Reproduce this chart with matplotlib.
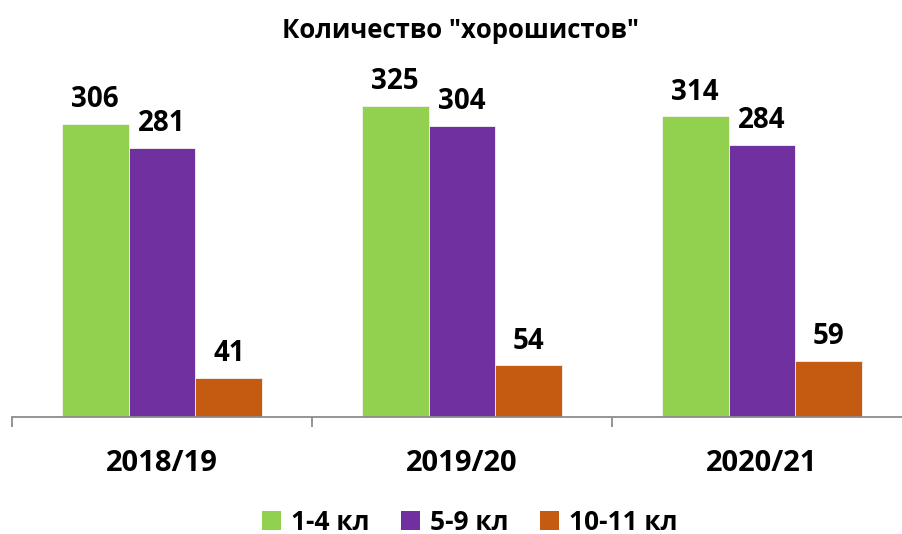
import numpy as np
import matplotlib.pyplot as plt
from matplotlib.patches import Patch

plt.rcParams['font.family'] = ['Open Sans', 'DejaVu Sans']
plt.rcParams['font.weight'] = 'bold'

years = ['2018/19', '2019/20', '2020/21']
grades = ['1-4 кл', '5-9 кл', '10-11 кл']
values = {
    '1-4 кл': [306, 325, 314],
    '5-9 кл': [281, 304, 284],
    '10-11 кл': [41, 54, 59],
}
colors = ['#92D050', '#7030A0', '#C55A11']

W, H = 902, 534
fig = plt.figure(figsize=(W / 100, H / 100), dpi=100)
# plot area: x from 12px to 912px (runs past the right edge), baseline at 417px
ax = fig.add_axes([12 / W, 117 / H, 900 / W, 335 / H])

x = np.arange(len(years))
bw = 0.223
for i, g in enumerate(grades):
    pos = x + (i - 1) * bw
    bars = ax.bar(pos, values[g], width=bw, color=colors[i],
                  edgecolor='#f2f2f2', linewidth=0.6, label=g)
    for b, v in zip(bars, values[g]):
        ax.annotate(str(v), (b.get_x() + b.get_width() / 2, v),
                    xytext=(0, 7), textcoords='offset points',
                    ha='center', va='bottom', fontsize=20, fontweight='bold')

ax.set_xlim(-0.5, 2.5)
ax.set_ylim(0, 350)
ax.set_yticks([])
for s in ['top', 'right', 'left']:
    ax.spines[s].set_visible(False)
ax.spines['bottom'].set_color('#8c8c8c')
ax.spines['bottom'].set_linewidth(1.3)

ax.set_xticks([-0.5, 0.5, 1.5, 2.5])
ax.set_xticklabels([])
ax.tick_params(axis='x', which='major', direction='out', length=7,
               width=1.3, color='#8c8c8c')
ax.set_xticks(x, minor=True)
ax.set_xticklabels(years, minor=True, fontsize=21, fontweight='bold')
ax.tick_params(axis='x', which='minor', length=0, pad=23)

fig.text(461 / W, 1 - 30 / H, 'Количество "хорошистов"', ha='center', va='center',
         fontsize=18.5, fontweight='bold')

handles = [Patch(facecolor=c, label=g) for c, g in zip(colors, grades)]
fig.legend(handles=handles, loc='center', bbox_to_anchor=(470 / W, 12 / H),
           ncol=3, frameon=False, handlelength=0.7,
           handleheight=0.7, handletextpad=0.4, columnspacing=1.2,
           prop={'size': 19, 'weight': 'bold'})

fig.savefig('out.png', dpi=100)
